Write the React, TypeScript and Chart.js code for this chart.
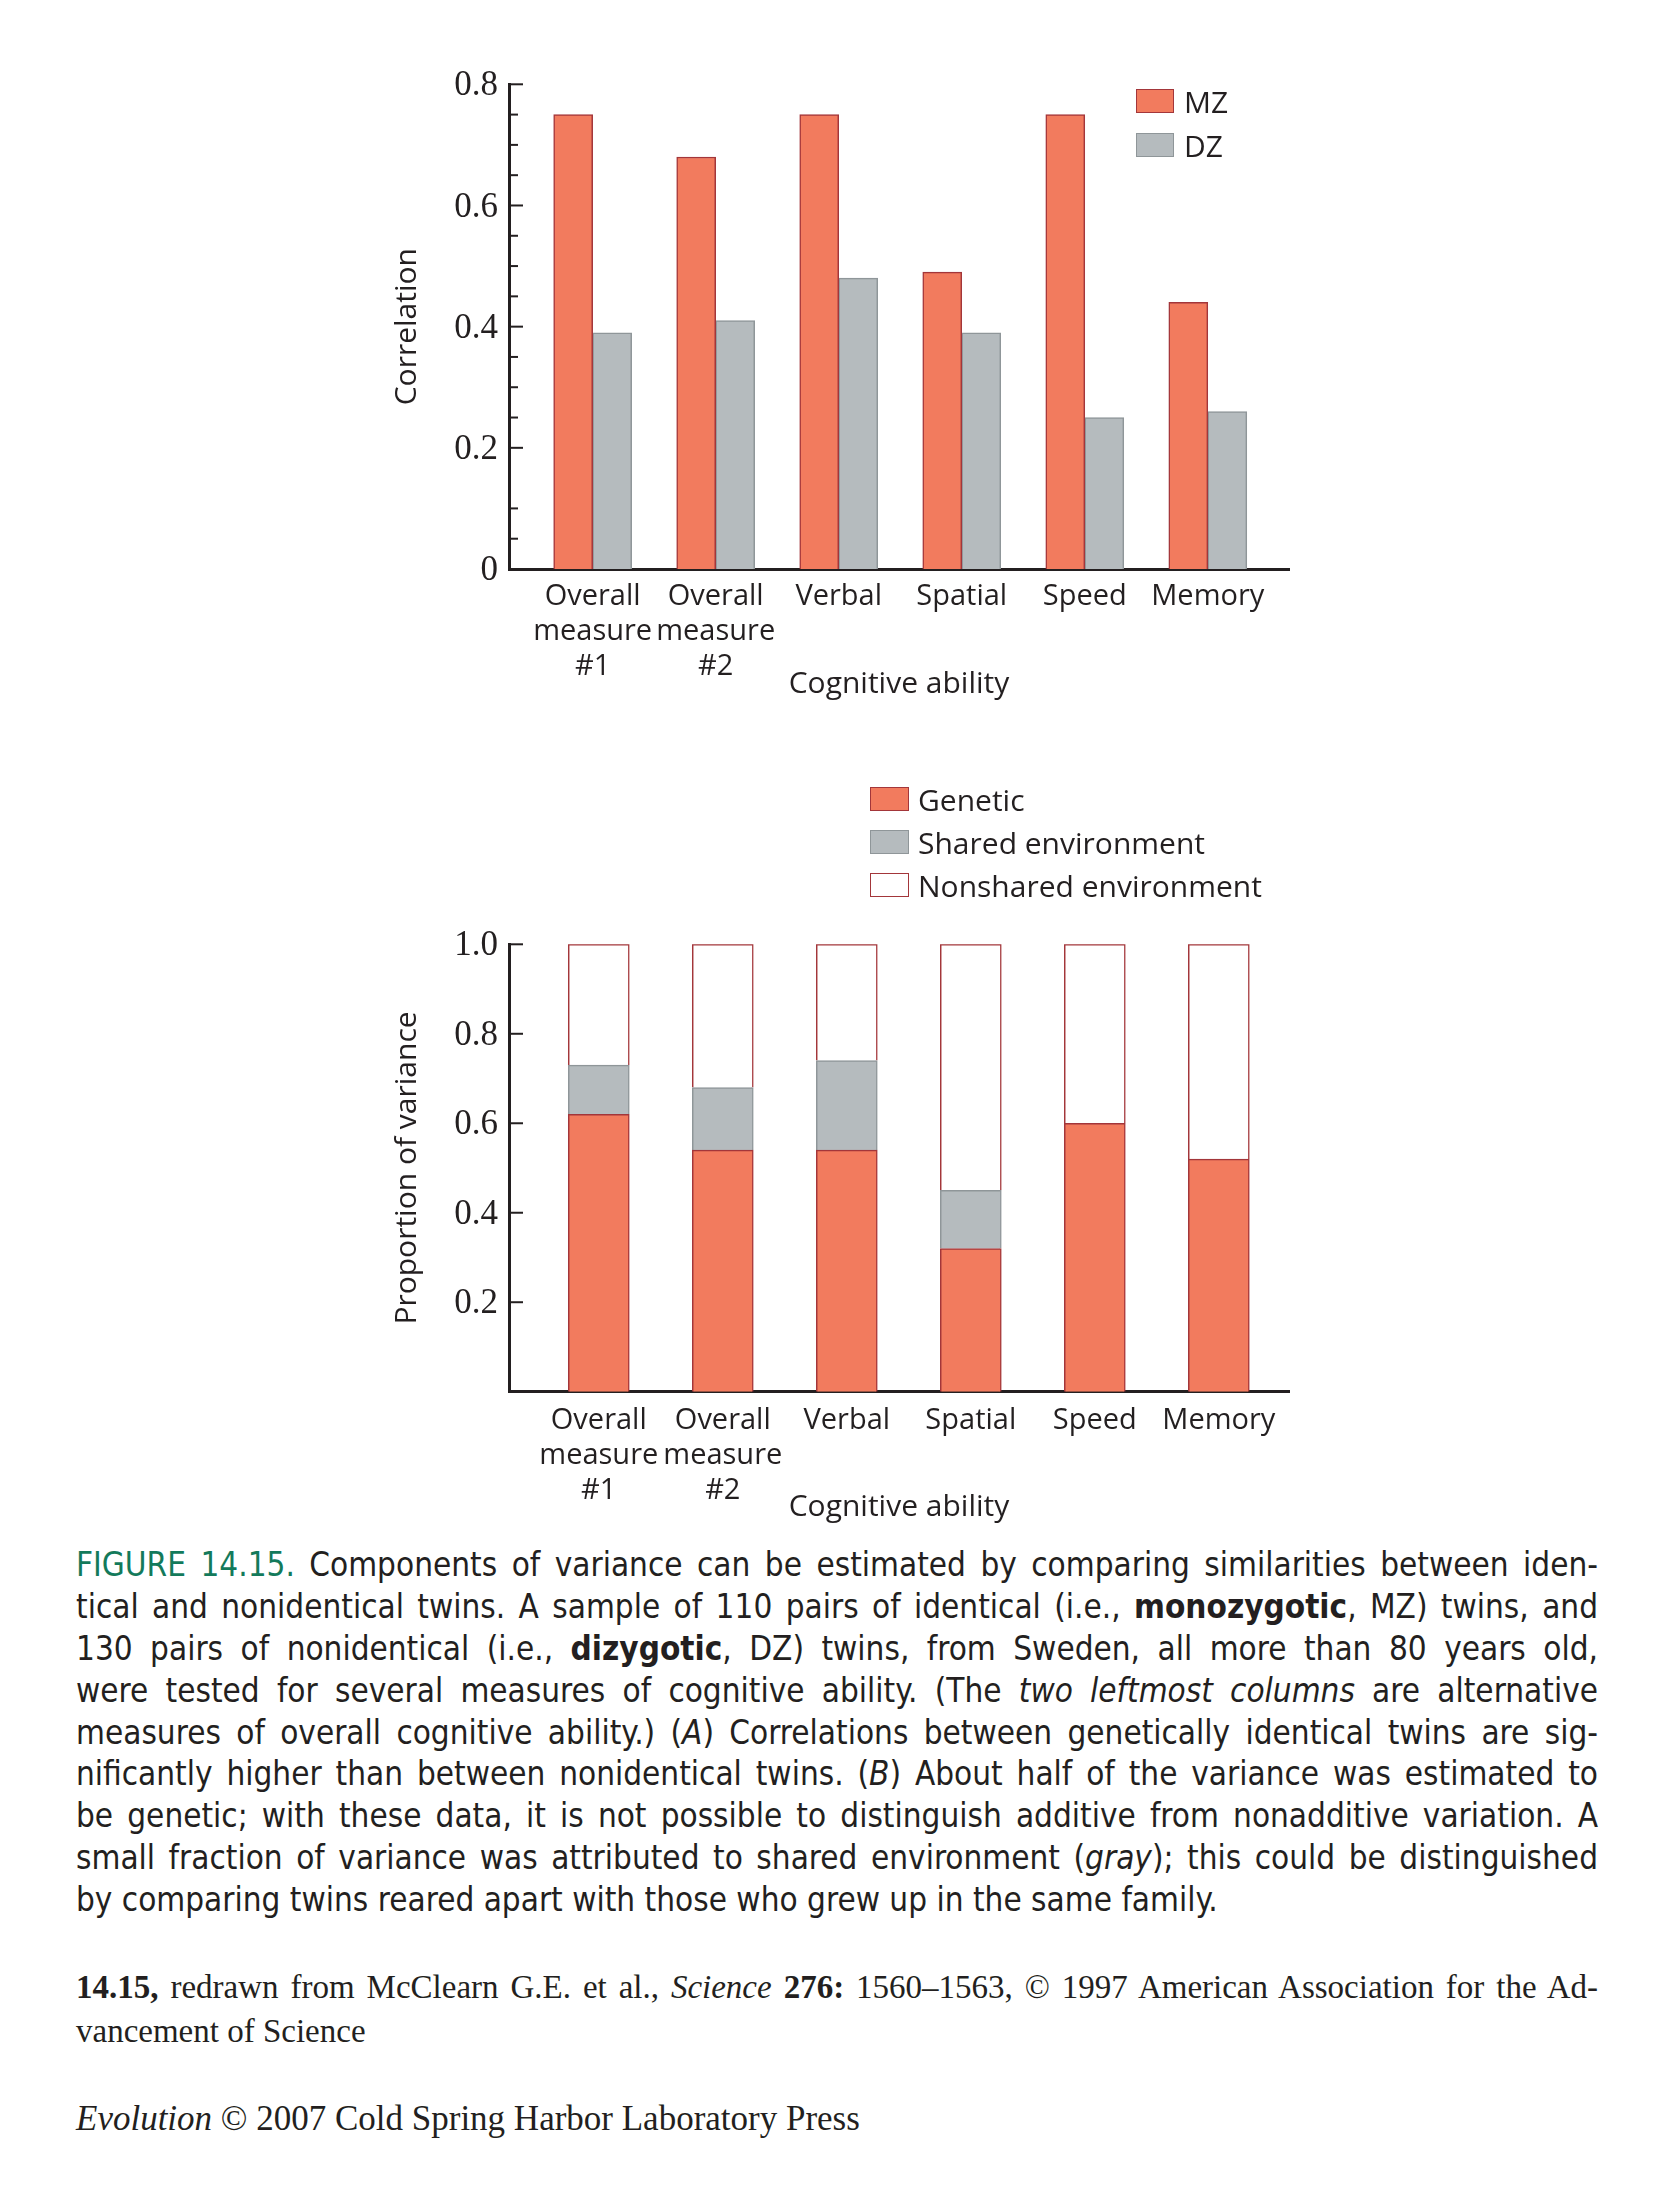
import React, { useEffect, useRef } from "react";
import { Chart, registerables } from "chart.js";

Chart.register(...registerables);

// ---------------- data ----------------
const abilityLabels: string[][] = [
  ["Overall", "measure", "#1"],
  ["Overall", "measure", "#2"],
  ["Verbal"],
  ["Spatial"],
  ["Speed"],
  ["Memory"],
];
const abilityIndex = [0, 1, 2, 3, 4, 5];

// Panel A: correlations
const mzCorrelation = [0.75, 0.68, 0.75, 0.49, 0.75, 0.44];
const dzCorrelation = [0.39, 0.41, 0.48, 0.39, 0.25, 0.26];
const correlationTicks = [0, 0.2, 0.4, 0.6, 0.8];
const correlationMinorTicks = [0.75, 0.7, 0.65, 0.55, 0.5, 0.45, 0.35, 0.3, 0.25, 0.1, 0.05];

// Panel B: proportion of variance
const geneticShare = [0.62, 0.54, 0.54, 0.32, 0.6, 0.52];
const sharedEnvShare = [0.11, 0.14, 0.2, 0.13, 0, 0];
const nonsharedEnvShare = [0.27, 0.32, 0.26, 0.55, 0.4, 0.48];
const varianceTicks = [0, 0.2, 0.4, 0.6, 0.8, 1.0];

// ---------------- styles ----------------
const INK = "#231f20";
const SALMON = "#f27b5e";
const SALMON_EDGE = "#a3363a";
const GRAY = "#b5bbbe";
const GRAY_EDGE = "#8f9699";
const WHITE = "#ffffff";
const GREEN = "#137a5b";

const SANS = "'Open Sans', 'Noto Sans', sans-serif";
const SERIF = "'Liberation Serif', serif";
const LABEL_FONT = { family: SANS, size: 29, lineHeight: 35 / 29 };
const TITLE_FONT = { family: SANS, size: 30, lineHeight: 1.2 };
const TICK_FONT = { family: SERIF, size: 35 };

const P = (v: number) => v - 8; // page coordinate -> position inside root container

const inwardTicks = {
  id: "inwardTicks",
  afterDraw(chart: any, _args: any, opts: any) {
    const y = chart.scales.y;
    const left = chart.chartArea.left;
    const ctx = chart.ctx;
    ctx.save();
    ctx.strokeStyle = INK;
    ctx.lineWidth = 2;
    const draw = (v: number, len: number) => {
      const py = y.getPixelForValue(v);
      ctx.beginPath();
      ctx.moveTo(left, py);
      ctx.lineTo(left + len, py);
      ctx.stroke();
    };
    y.ticks.forEach((t: any) => {
      if (t.value > 0) draw(t.value, 14);
    });
    (opts.minor || []).forEach((v: number) => draw(v, 9));
    ctx.restore();
  },
};

function xScale(min: number, max: number, height: number, pad: number, titlePadBottom: number, stacked: boolean) {
  return {
    type: "linear",
    min,
    max,
    offset: false,
    stacked,
    z: 1,
    grid: { display: false, drawTicks: false, offset: false },
    border: { display: true, color: INK, width: 3 },
    afterBuildTicks: (s: any) => {
      s.ticks = abilityIndex.map((v) => ({ value: v }));
    },
    afterFit: (s: any) => {
      s.height = height;
    },
    ticks: {
      autoSkip: false,
      maxRotation: 0,
      minRotation: 0,
      padding: pad,
      color: INK,
      font: LABEL_FONT,
      callback: (v: any) => abilityLabels[Math.round(Number(v))] ?? "",
    },
    title: {
      display: true,
      text: "Cognitive ability",
      color: INK,
      font: TITLE_FONT,
      padding: { top: 0, bottom: titlePadBottom },
    },
  };
}

function yScale(max: number, ticks: number[], title: string, stacked: boolean, fmt: (v: number) => string) {
  return {
    type: "linear",
    min: 0,
    max,
    stacked,
    z: 1,
    grid: { display: false, drawTicks: false },
    border: { display: true, color: INK, width: 3 },
    afterBuildTicks: (s: any) => {
      s.ticks = ticks.map((v) => ({ value: v }));
    },
    afterFit: (s: any) => {
      s.width = 139;
    },
    ticks: {
      padding: 11,
      labelOffset: 2,
      color: INK,
      font: TICK_FONT,
      callback: (v: any) => fmt(Number(v)),
    },
    title: {
      display: true,
      text: title,
      color: INK,
      font: TITLE_FONT,
      padding: { top: 19, bottom: 0 },
    },
  };
}

function correlationConfig(): any {
  return {
    type: "bar",
    data: {
      datasets: [
        {
          label: "MZ",
          data: abilityIndex.map((x, i) => ({ x, y: mzCorrelation[i] })),
          backgroundColor: SALMON,
          borderColor: SALMON_EDGE,
          borderWidth: 1.5,
          barThickness: 39,
        },
        {
          label: "DZ",
          data: abilityIndex.map((x, i) => ({ x, y: dzCorrelation[i] })),
          backgroundColor: GRAY,
          borderColor: GRAY_EDGE,
          borderWidth: 1.5,
          barThickness: 39,
        },
      ],
    },
    options: {
      responsive: false,
      maintainAspectRatio: false,
      animation: false,
      devicePixelRatio: 1,
      layout: { padding: { left: 0, top: 44.3, right: 41, bottom: 0 } },
      plugins: {
        legend: { display: false },
        tooltip: { enabled: false },
        inwardTicks: { minor: correlationMinorTicks },
      },
      scales: {
        x: xScale(-0.68, 5.66, 151, 10, 18, false),
        y: yScale(0.8, correlationTicks, "Correlation", false, (v) => (v === 0 ? "0" : v.toFixed(1))),
      },
    },
    plugins: [inwardTicks],
  };
}

function varianceConfig(): any {
  const mk = (label: string, values: number[], fill: string, edge: string) => ({
    label,
    data: abilityIndex.map((x, i) => ({ x, y: values[i] })),
    backgroundColor: fill,
    borderColor: edge,
    borderWidth: 1.5,
    barThickness: 61,
  });
  return {
    type: "bar",
    data: {
      datasets: [
        mk("Genetic", geneticShare, SALMON, SALMON_EDGE),
        mk("Shared environment", sharedEnvShare, GRAY, GRAY_EDGE),
        mk("Nonshared environment", nonsharedEnvShare, WHITE, SALMON_EDGE),
      ],
    },
    options: {
      responsive: false,
      maintainAspectRatio: false,
      animation: false,
      devicePixelRatio: 1,
      layout: { padding: { left: 0, top: 204.3, right: 41, bottom: 0 } },
      plugins: {
        legend: { display: false },
        tooltip: { enabled: false },
        inwardTicks: { minor: [] },
      },
      scales: {
        x: xScale(-0.724, 5.566, 148.3, 12, 15, true),
        y: yScale(1.0, varianceTicks, "Proportion of variance", true, (v) => (v === 0 ? "" : v.toFixed(1))),
      },
    },
    plugins: [inwardTicks],
  };
}

function ChartCanvas(props: { make: () => any; left: number; top: number; width: number; height: number }) {
  const ref = useRef<HTMLCanvasElement | null>(null);
  useEffect(() => {
    const chart = new Chart(ref.current as HTMLCanvasElement, props.make());
    return () => chart.destroy();
  }, []);
  return (
    <canvas
      ref={ref}
      width={props.width}
      height={props.height}
      style={{
        position: "absolute",
        left: P(props.left),
        top: P(props.top),
        width: props.width,
        height: props.height,
      }}
    />
  );
}

const topLegend = [
  { label: "MZ", fill: SALMON, edge: SALMON_EDGE },
  { label: "DZ", fill: GRAY, edge: GRAY_EDGE },
];
const bottomLegend = [
  { label: "Genetic", fill: SALMON, edge: SALMON_EDGE },
  { label: "Shared environment", fill: GRAY, edge: GRAY_EDGE },
  { label: "Nonshared environment", fill: WHITE, edge: SALMON_EDGE },
];

function Legend(props: {
  items: { label: string; fill: string; edge: string }[];
  swatchLeft: number;
  swatchTop: number;
  swatchW: number;
  textLeft: number;
  textTop: number;
  step: number;
}) {
  return (
    <>
      {props.items.map((it, i) => (
        <React.Fragment key={it.label}>
          <div
            style={{
              position: "absolute",
              left: P(props.swatchLeft),
              top: P(props.swatchTop + i * props.step),
              width: props.swatchW,
              height: 24,
              boxSizing: "border-box",
              background: it.fill,
              border: `1.5px solid ${it.edge}`,
            }}
          />
          <div
            style={{
              position: "absolute",
              left: P(props.textLeft),
              top: P(props.textTop + i * props.step),
              fontFamily: SANS,
              fontSize: 30,
              lineHeight: "36px",
              color: INK,
              whiteSpace: "nowrap",
            }}
          >
            {it.label}
          </div>
        </React.Fragment>
      ))}
    </>
  );
}

const CAPTION_FONT = "'Liberation Sans Narrow', 'DejaVu Sans Condensed', 'Liberation Sans', sans-serif";

function JLine(props: { children: any; last?: boolean; h: number }) {
  return (
    <div
      style={{
        height: props.h,
        lineHeight: `${props.h}px`,
        textAlign: props.last ? "left" : "justify",
        textAlignLast: props.last ? "left" : "justify",
      } as any}
    >
      {props.children}
    </div>
  );
}

export default function App() {
  return (
    <div style={{ position: "relative", width: 1655, height: 2195, background: "#fff", color: INK }}>
      <ChartCanvas make={correlationConfig} left={370} top={40} width={960} height={680} />
      <ChartCanvas make={varianceConfig} left={370} top={740} width={960} height={800} />

      <Legend items={topLegend} swatchLeft={1136} swatchTop={89} swatchW={38} textLeft={1184} textTop={84} step={44} />
      <Legend items={bottomLegend} swatchLeft={870} swatchTop={787} swatchW={39} textLeft={918} textTop={782} step={42.8} />

      <div
        style={{
          position: "absolute",
          left: P(76),
          top: P(1544),
          width: 1522,
          fontFamily: CAPTION_FONT,
          fontSize: 33,
          color: INK,
        }}
      >
        <JLine h={41.9}>
          <span style={{ color: GREEN }}>FIGURE 14.15.</span> Components of variance can be estimated by comparing similarities between iden-
        </JLine>
        <JLine h={41.9}>
          tical and nonidentical twins. A sample of 110 pairs of identical (i.e., <b>monozygotic</b>, MZ) twins, and
        </JLine>
        <JLine h={41.9}>
          130 pairs of nonidentical (i.e., <b>dizygotic</b>, DZ) twins, from Sweden, all more than 80 years old,
        </JLine>
        <JLine h={41.9}>
          were tested for several measures of cognitive ability. (The <i>two leftmost columns</i> are alternative
        </JLine>
        <JLine h={41.9}>
          measures of overall cognitive ability.) (<i>A</i>) Correlations between genetically identical twins are sig-
        </JLine>
        <JLine h={41.9}>
          nificantly higher than between nonidentical twins. (<i>B</i>) About half of the variance was estimated to
        </JLine>
        <JLine h={41.9}>
          be genetic; with these data, it is not possible to distinguish additive from nonadditive variation. A
        </JLine>
        <JLine h={41.9}>
          small fraction of variance was attributed to shared environment (<i>gray</i>); this could be distinguished
        </JLine>
        <JLine h={41.9} last>
          by comparing twins reared apart with those who grew up in the same family.
        </JLine>
      </div>

      <div
        style={{
          position: "absolute",
          left: P(76),
          top: P(1965),
          width: 1522,
          fontFamily: SERIF,
          fontSize: 33,
          color: INK,
        }}
      >
        <JLine h={44}>
          <b>14.15,</b> redrawn from McClearn G.E. et al., <i>Science</i> <b>276:</b> 1560–1563, © 1997 American Association for the Ad-
        </JLine>
        <JLine h={44} last>
          vancement of Science
        </JLine>
      </div>

      <div
        style={{
          position: "absolute",
          left: P(76),
          top: P(2097),
          fontFamily: SERIF,
          fontSize: 35,
          lineHeight: "44px",
          color: INK,
          whiteSpace: "nowrap",
        }}
      >
        <i>Evolution</i> © 2007 Cold Spring Harbor Laboratory Press
      </div>
    </div>
  );
}
